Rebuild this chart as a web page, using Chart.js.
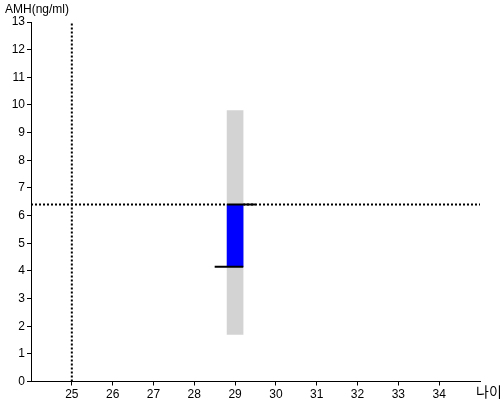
<!DOCTYPE html>
<html>
<head>
<meta charset="utf-8">
<script src="https://cdn.jsdelivr.net/npm/chart.js@4"></script>
<style>
  html, body { margin: 0; padding: 0; background: #fff; }
  #wrap { width: 500px; height: 400px; }
</style>
</head>
<body>
<div id="wrap"><canvas id="myChart"></canvas></div>
<script>
// data
const yTitle = 'AMH(ng/ml)';
const xTitle = '나이';
const xTicks = [25, 26, 27, 28, 29, 30, 31, 32, 33, 34];
const xRange = [24, 35];
const yRange = [0, 13];
const age = 29;
const normalRange = [1.7, 9.8];     // gray bar
const myRange = [4.15, 6.4];        // blue bar
const upperMark = [[28.8, 6.4], [29.5, 6.4]];
const lowerMark = [[28.5, 4.15], [29.2, 4.15]];
const refAge = 25;
const refAmh = 6.4;

const FONT = "Arial, 'Liberation Sans', 'Noto Sans CJK KR', sans-serif";

const labelPlugin = {
    id: 'labels',
    afterDraw(chart) {
        const ctx = chart.ctx;
        ctx.save();
        ctx.fillStyle = '#000';
        ctx.font = '12px ' + FONT;
        ctx.textBaseline = 'middle';
        ctx.textAlign = 'left';
        ctx.fillText(yTitle, 5, 10);
        ctx.font = '14px ' + FONT;
        ctx.fillText(xTitle, 476, 393);
        ctx.restore();
    }
};

function pts(arr) {
    return arr.map(p => ({ x: p[0], y: p[1] }));
}

const ctx = document.getElementById('myChart').getContext('2d');
const chart = new Chart(ctx, {
    type: 'bar',
    data: {
        datasets: [
            {
                type: 'line',
                data: [{ x: xRange[0], y: refAmh }, { x: xRange[1], y: refAmh }],
                borderColor: '#000',
                borderWidth: 2,
                borderDash: [2, 2],
                pointRadius: 0,
                order: 5
            },
            {
                type: 'line',
                data: [{ x: refAge, y: yRange[0] }, { x: refAge, y: yRange[1] }],
                borderColor: '#000',
                borderWidth: 2,
                borderDash: [2, 2],
                pointRadius: 0,
                order: 5
            },
            {
                data: [{ x: age, y: normalRange }],
                backgroundColor: '#d3d3d3',
                barThickness: 16,
                grouped: false,
                order: 4
            },
            {
                data: [{ x: age, y: myRange }],
                backgroundColor: '#0000ff',
                barThickness: 16,
                grouped: false,
                order: 3
            },
            {
                type: 'line',
                data: pts(upperMark),
                borderColor: '#000',
                borderWidth: 2,
                pointRadius: 0,
                order: 1
            },
            {
                type: 'line',
                data: pts(lowerMark),
                borderColor: '#000',
                borderWidth: 2,
                pointRadius: 0,
                order: 1
            }
        ]
    },
    options: {
        responsive: true,
        maintainAspectRatio: false,
        animation: false,
        layout: { padding: { top: 22, right: 20, left: 0, bottom: 0 } },
        plugins: {
            legend: { display: false },
            tooltip: { enabled: false }
        },
        scales: {
            x: {
                type: 'linear',
                min: xRange[0],
                max: xRange[1],
                offset: false,
                afterBuildTicks: (scale) => {
                    scale.ticks = xTicks.map(v => ({ value: v }));
                },
                afterFit: (scale) => { scale.height = 18.5; },
                grid: { drawOnChartArea: false, offset: false, tickLength: 4, color: '#000' },
                border: { color: '#000', width: 1 },
                ticks: {
                    color: '#000',
                    padding: 2,
                    maxRotation: 0,
                    font: { family: FONT, size: 12 }
                }
            },
            y: {
                min: yRange[0],
                max: yRange[1],
                afterFit: (scale) => { scale.width = 31; },
                grid: { drawOnChartArea: false, tickLength: 4, color: '#000' },
                border: { color: '#000', width: 1 },
                ticks: {
                    stepSize: 1,
                    color: '#000',
                    padding: 2,
                    font: { family: FONT, size: 12 }
                }
            }
        }
    },
    plugins: [labelPlugin]
});
</script>
</body>
</html>
